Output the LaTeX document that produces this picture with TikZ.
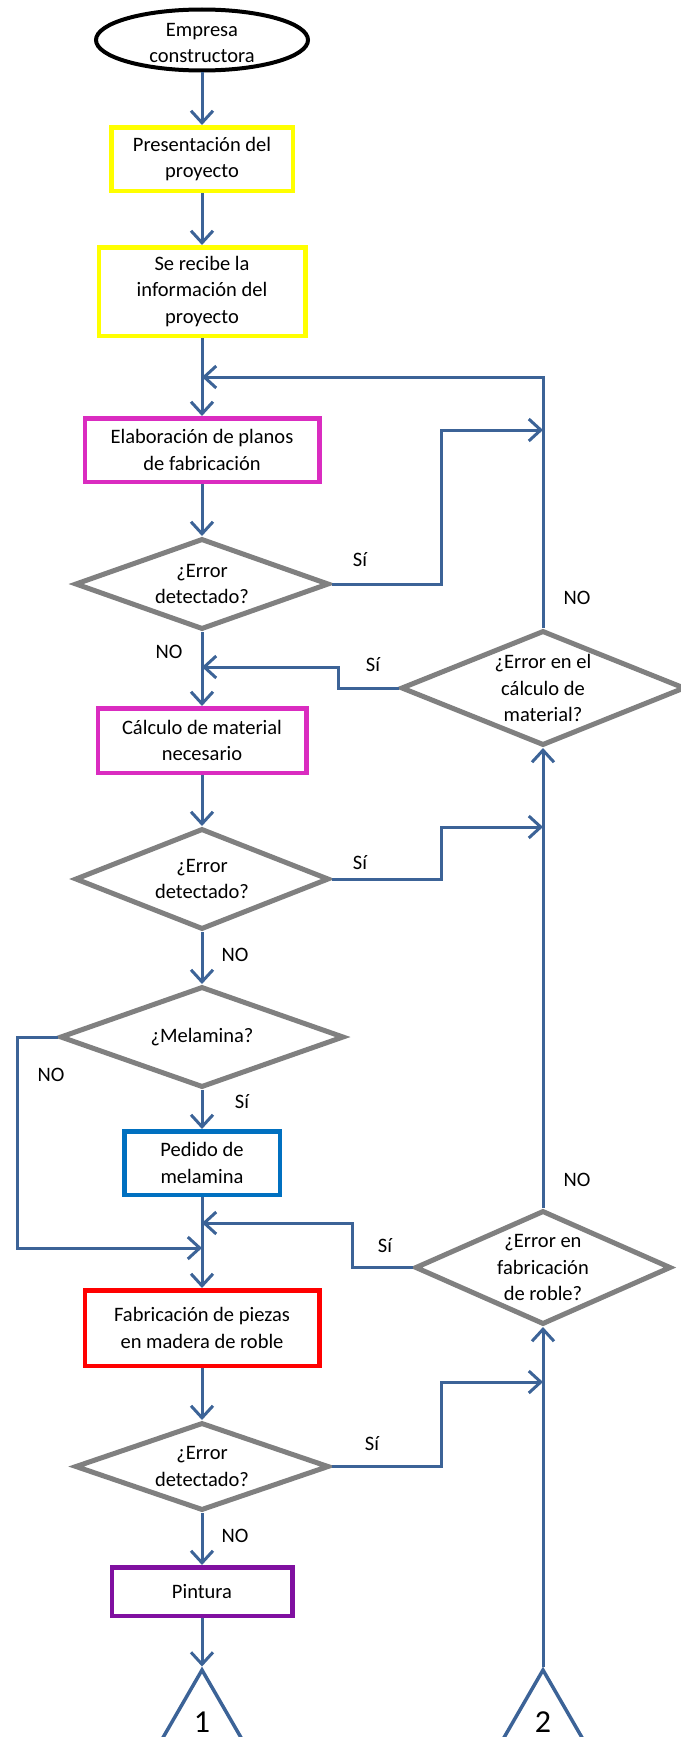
\documentclass[tikz,border=0pt]{standalone}
\usepackage{fontspec}
\setmainfont{Carlito}
\usetikzlibrary{shapes.geometric,arrows.meta}

\definecolor{connblue}{RGB}{60,99,151}
\definecolor{diagray}{RGB}{128,128,128}
\definecolor{boxyellow}{RGB}{255,255,0}
\definecolor{boxmagenta}{RGB}{218,44,192}
\definecolor{boxblue}{RGB}{0,112,192}
\definecolor{boxred}{RGB}{255,0,0}
\definecolor{boxpurple}{RGB}{128,16,160}

\begin{document}
\begin{tikzpicture}[x=1pt,y=-1pt,
  txtbase/.style={font=\fontsize{20.5}{26.5}\selectfont, text=black},
  procbox/.style={txtbase, rectangle, draw, line width=4.5pt, fill=white, align=center, inner sep=2pt},
  decision/.style={diamond, draw=diagray, line width=5pt, fill=white, inner sep=0pt},
  terminal/.style={ellipse, draw=black, line width=4pt, fill=white, inner sep=0pt},
  offpage/.style={regular polygon, regular polygon sides=3, draw=connblue, line width=3.5pt, minimum size=92.4pt, inner sep=0pt},
  qtext/.style={txtbase, align=center, inner sep=0pt},
  lbl/.style={txtbase, inner sep=0pt},
  numtext/.style={font=\fontsize{32}{36}\selectfont, text=black, inner sep=0pt},
  flowline/.style={draw=connblue, line width=3pt, -{Straight Barb[length=12pt,width=22pt]}},
]
\useasboundingbox (0,0) rectangle (680,1737);

% ---- main column ----
\node[terminal, minimum width=212, minimum height=61] (start) at (202,40) {};
\node[qtext, yshift=-3pt] (startT) at (start.center) {Empresa\\constructora};

\node[procbox, draw=boxyellow, minimum width=181.5, minimum height=63.5] (b1) at (202,159) {Presentación del\\proyecto};
\node[procbox, draw=boxyellow, minimum width=206.5, minimum height=88.5] (b2) at (202,291.5) {Se recibe la\\información del\\proyecto};
\node[procbox, draw=boxmagenta, minimum width=234.5, minimum height=63.5] (b3) at (202,450) {Elaboración de planos\\de fabricación};

\node[decision, minimum width=254, minimum height=91] (d1) at (202,584) {};
\node[qtext] (d1T) at (d1.center) {¿Error\\detectado?};

\node[procbox, draw=boxmagenta, minimum width=208.5, minimum height=64.5] (b4) at (202,740.5) {Cálculo de material\\necesario};

\node[decision, minimum width=254, minimum height=101] (d2) at (202,879) {};
\node[qtext] (d2T) at (d2.center) {¿Error\\detectado?};

\node[decision, minimum width=284, minimum height=101] (d3) at (202,1037) {};
\node[qtext] (d3T) at (d3.center) {¿Melamina?};

\node[procbox, draw=boxblue, minimum width=155.5, minimum height=63.5] (b5) at (202,1163) {Pedido de\\melamina};
\node[procbox, draw=boxred, minimum width=234.5, minimum height=75.5] (b6) at (202,1328) {Fabricación de piezas\\en madera de roble};

\node[decision, minimum width=254, minimum height=88] (d4) at (202,1466.5) {};
\node[qtext] (d4T) at (d4.center) {¿Error\\detectado?};

\node[procbox, draw=boxpurple, minimum width=180.5, minimum height=48.5] (b7) at (202,1591.5) {Pintura};

\node[offpage] (t1) at (202,1716.2) {};
\node[numtext] (t1T) at (202,1722) {1};

% ---- right column ----
\node[decision, minimum width=284, minimum height=115] (dr1) at (543,688) {};
\node[qtext] (dr1T) at (dr1.center) {¿Error en el\\cálculo de\\material?};

\node[decision, minimum width=256, minimum height=114] (dr2) at (543,1267.5) {};
\node[qtext] (dr2T) at (dr2.center) {¿Error en\\fabricación\\de roble?};

\node[offpage] (t2) at (543,1716.2) {};
\node[numtext] (t2T) at (543,1722) {2};

% ---- junction and bend points ----
\coordinate (j1) at (202,377);
\coordinate (j2) at (202,667);
\coordinate (j3) at (202,1223);
\coordinate (j4) at (202,1248);
\coordinate (k1) at (543,430);
\coordinate (k2) at (543,827);
\coordinate (k3) at (543,1382);
\coordinate (c1) at (441,430);
\coordinate (c2) at (338,667);
\coordinate (c3) at (441,827);
\coordinate (c4) at (17,1248);
\coordinate (c5) at (352,1223);
\coordinate (c6) at (441,1382);

% ---- connectors ----
\draw[flowline] (start.south) -- (b1.north);
\draw[flowline] (b1.south) -- (b2.north);
\draw[flowline] (b2.south) -- (b3.north);
\draw[flowline] (dr1.north) |- (j1);
\draw[flowline] (b3.south) -- (d1.north);
\draw[flowline] (d1.east) -| (c1) -- (k1);
\draw[flowline] (d1.south) -- (b4.north);
\draw[flowline] (dr1.west) -| (c2) -- (j2);
\draw[flowline] (b4.south) -- (d2.north);
\draw[flowline] (d2.east) -| (c3) -- (k2);
\draw[flowline] (d2.south) -- (d3.north);
\draw[flowline] (d3.west) -| (c4) -- (j4);
\draw[flowline] (d3.south) -- (b5.north);
\draw[flowline] (b5.south) -- (b6.north);
\draw[flowline] (dr2.west) -| (c5) -- (j3);
\draw[flowline] (b6.south) -- (d4.north);
\draw[flowline] (d4.east) -| (c6) -- (k3);
\draw[flowline] (d4.south) -- (b7.north);
\draw[flowline] (b7.south) -- (t1.north);
\draw[flowline] (t2.north) -- (dr2.south);
\draw[flowline] (dr2.north) -- (dr1.south);

% ---- branch labels ----
\node[lbl] (s1) at (360,560) {Sí};
\node[lbl] (n1) at (169,652) {NO};
\node[lbl] (s2) at (373,665) {Sí};
\node[lbl] (n2) at (577,598) {NO};
\node[lbl] (s3) at (360,863) {Sí};
\node[lbl] (n3) at (235,955) {NO};
\node[lbl] (n4) at (51,1075) {NO};
\node[lbl] (s4) at (242,1102) {Sí};
\node[lbl] (n5) at (577,1180) {NO};
\node[lbl] (s5) at (385,1246) {Sí};
\node[lbl] (s6) at (372,1444) {Sí};
\node[lbl] (n6) at (235,1536) {NO};
\end{tikzpicture}
\end{document}
